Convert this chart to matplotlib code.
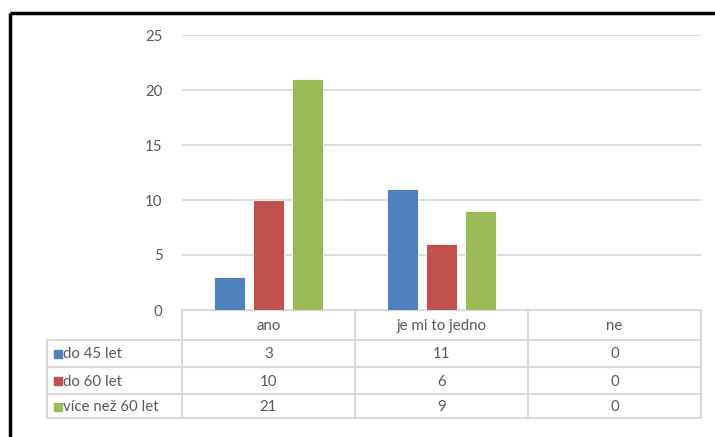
import matplotlib
matplotlib.use("Agg")
import matplotlib.pyplot as plt
import numpy as np

plt.rcParams['font.family'] = ['Lato', 'DejaVu Sans']

categories = ["ano", "je mi to jedno", "ne"]
series_names = ["do 45 let", "do 60 let", "více než 60 let"]
do_45 = [3, 11, 0]
do_60 = [10, 6, 0]
nad_60 = [21, 9, 0]
colors = ["#4F81BD", "#C0504D", "#9BBB59"]
yticks = [0, 5, 10, 15, 20, 25]

W, H = 715, 437
fig = plt.figure(figsize=(W / 100, H / 100), dpi=100)

# plot area in pixels
px_left, px_right, px_top, px_bottom = 182, 701, 35, 310
ax = fig.add_axes([px_left / W, 1 - px_bottom / H,
                   (px_right - px_left) / W, (px_bottom - px_top) / H])

text_col = "#595959"
grid_col = "#D9D9D9"
fs = 10.8

x = np.arange(len(categories)) + 0.5
width = 0.179
step = 0.225
for i, vals in enumerate([do_45, do_60, nad_60]):
    ax.bar(x + (i - 1) * step, vals, width, color=colors[i],
           edgecolor="white", linewidth=0.6, zorder=3)

ax.set_xlim(0, len(categories))
ax.set_ylim(0, 25)
ax.set_yticks(yticks)
ax.set_xticks([])
ax.yaxis.grid(True, color=grid_col, linewidth=1.3, zorder=0)
ax.tick_params(axis="y", length=0, pad=14, labelsize=fs, labelcolor=text_col)
for s in ["top", "right", "left"]:
    ax.spines[s].set_visible(False)
ax.spines["bottom"].set_color(grid_col)
ax.spines["bottom"].set_linewidth(1.5)

# overlay in pixel coordinates for the border and the data table
ov = fig.add_axes([0, 0, 1, 1], zorder=-1)
ov.set_xlim(0, W)
ov.set_ylim(H, 0)
ov.axis("off")

# chart border (top and left)
ov.plot([10, W], [13, 13], color="black", linewidth=2.5, solid_capstyle="butt")
ov.plot([10, 10], [13, H], color="black", linewidth=2.5, solid_capstyle="butt")

tbl_left = 47
col_w = (px_right - px_left) / len(categories)
col_edges = [px_left + k * col_w for k in range(len(categories) + 1)]
row_edges = [px_bottom, 340, 367, 394, 418]

lw = 1.5
for y in row_edges[1:]:
    ov.plot([tbl_left, px_right], [y, y], color=grid_col, linewidth=lw)
ov.plot([tbl_left, tbl_left], [row_edges[1], row_edges[-1]], color=grid_col, linewidth=lw)
for xe in col_edges:
    ov.plot([xe, xe], [px_bottom, row_edges[-1]], color=grid_col, linewidth=lw)

for k, cat in enumerate(categories):
    cx = (col_edges[k] + col_edges[k + 1]) / 2
    ov.text(cx, (row_edges[0] + row_edges[1]) / 2 + 1, cat, ha="center", va="center",
            fontsize=fs, color=text_col)

for r, (name, vals) in enumerate(zip(series_names, [do_45, do_60, nad_60])):
    cy = (row_edges[r + 1] + row_edges[r + 2]) / 2 + 1
    ov.add_patch(plt.Rectangle((54, cy - 4.5), 8, 8, color=colors[r]))
    ov.text(63, cy, name, ha="left", va="center", fontsize=fs, color=text_col)
    for k, v in enumerate(vals):
        cx = (col_edges[k] + col_edges[k + 1]) / 2
        ov.text(cx, cy, str(v), ha="center", va="center", fontsize=fs, color=text_col)

fig.savefig("out.png", dpi=100)
